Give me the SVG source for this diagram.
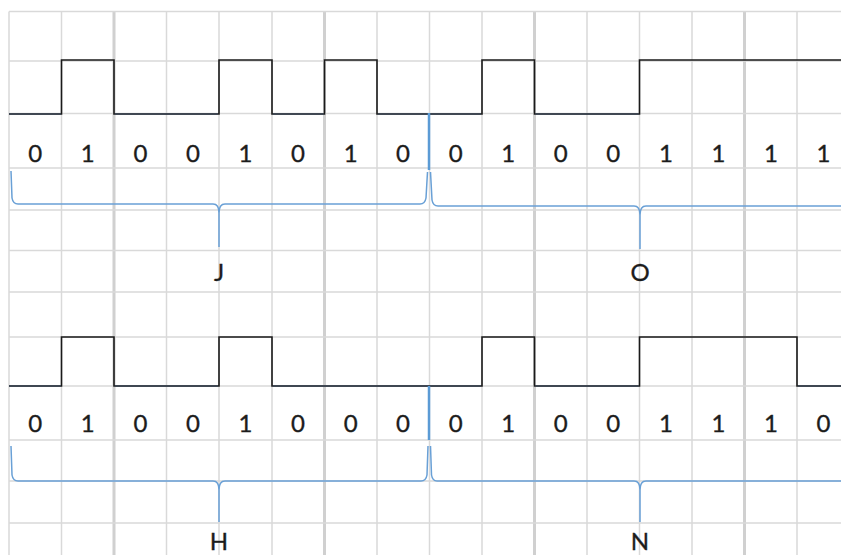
<svg xmlns="http://www.w3.org/2000/svg" width="841" height="555" viewBox="0 0 841 555">
<style>
.g{stroke:#d9d9d9;stroke-width:1.5;fill:none}
.gt{stroke:#d0d0d0;stroke-width:3;fill:none}
.sig{stroke:#1a1a1a;stroke-width:1.6;fill:none;stroke-linejoin:miter}
.lo{stroke:#3d4756;stroke-width:1.6;fill:none}
.br{stroke:#69a0d6;stroke-width:1.5;fill:none}
.bar{stroke:#5b9bd5;stroke-width:2.5}
.t{font-family:Lato,"Liberation Sans",sans-serif;font-size:24px;fill:#1c1c1c;stroke:#1c1c1c;stroke-width:0.35;text-anchor:middle}
</style>
<rect width="841" height="555" fill="#fff"/>
<g id="grid">
<path class="g" d="M9,11.5V555M61.5,11.5V555M166.5,11.5V555M219,11.5V555M272,11.5V555M377,11.5V555M429.5,11.5V555M482,11.5V555M587,11.5V555M639.5,11.5V555M692,11.5V555M797,11.5V555"/>
<path class="gt" d="M114,11.5V555M324.5,11.5V555M534.5,11.5V555M744.5,11.5V555"/>
<path class="g" d="M9,11.5H841M9,61H841M9,113.5H841M9,168H841M9,210H841M9,250.5H841M9,292H841M9,337H841M9,386H841M9,440H841M9,481H841M9,523H841"/>
</g>
<g id="signal-top">
<path class="sig" d="M9,114H61.5V60H114V114H219V60H272V114H324.5V60H377V114H482V60H534.5V114H639.5V60H841"/>
<path class="lo" d="M9,114H61M114.8,114H218M272.8,114H323.7M377.8,114H481M535.3,114H638.7"/>
</g>
<g id="signal-bottom">
<path class="sig" d="M9,386H61.5V337H114V386H219V337H272V386H482V337H534.5V386H639.5V337H797V386H841"/>
<path class="lo" d="M9,386H61M114.8,386H218M272.8,386H481M535.3,386H638.7M797.8,386H841"/>
</g>
<g id="bits-top" class="t">
<text x="35.3" y="162">0</text><text x="87.8" y="162">1</text><text x="140.4" y="162">0</text><text x="193" y="162">0</text>
<text x="245.5" y="162">1</text><text x="298" y="162">0</text><text x="350.6" y="162">1</text><text x="403" y="162">0</text>
<text x="455.7" y="162">0</text><text x="508.2" y="162">1</text><text x="560.8" y="162">0</text><text x="613.3" y="162">0</text>
<text x="665.9" y="162">1</text><text x="718.4" y="162">1</text><text x="771" y="162">1</text><text x="823.5" y="162">1</text>
</g>
<g id="bits-bottom" class="t">
<text x="35.3" y="432">0</text><text x="87.8" y="432">1</text><text x="140.4" y="432">0</text><text x="193" y="432">0</text>
<text x="245.5" y="432">1</text><text x="298" y="432">0</text><text x="350.6" y="432">0</text><text x="403" y="432">0</text>
<text x="455.7" y="432">0</text><text x="508.2" y="432">1</text><text x="560.8" y="432">0</text><text x="613.3" y="432">0</text>
<text x="665.9" y="432">1</text><text x="718.4" y="432">1</text><text x="771" y="432">1</text><text x="823.5" y="432">0</text>
</g>
<g id="connectors">
<line class="bar" x1="429" y1="113" x2="429" y2="170"/>
<line class="bar" x1="429" y1="386" x2="429" y2="440"/>
<path class="br" d="M11,171L12,198Q13,204 18,204H213Q219,204 219,213V247M219,213Q219,204 225,204H420Q425,204 426,198L427.5,172"/>
<path class="br" d="M430.5,172L432,200Q433,206 438,206H634Q640,206 640,215V249M640,215Q640,206 646,206H841"/>
<path class="br" d="M11,446L12,475Q13,481 18,481H213Q219,481 219,490V522M219,490Q219,481 225,481H421Q426,481 427,475L428,446"/>
<path class="br" d="M430.5,446L431.5,475Q432.5,481 437,481H634Q640,481 640,490V522M640,490Q640,481 646,481H841"/>
</g>
<g id="label-J"><text class="t" x="219" y="281">J</text></g>
<g id="label-O"><text class="t" x="640" y="281">O</text></g>
<g id="label-H"><text class="t" x="219" y="550">H</text></g>
<g id="label-N"><text class="t" x="640" y="550">N</text></g>
</svg>
